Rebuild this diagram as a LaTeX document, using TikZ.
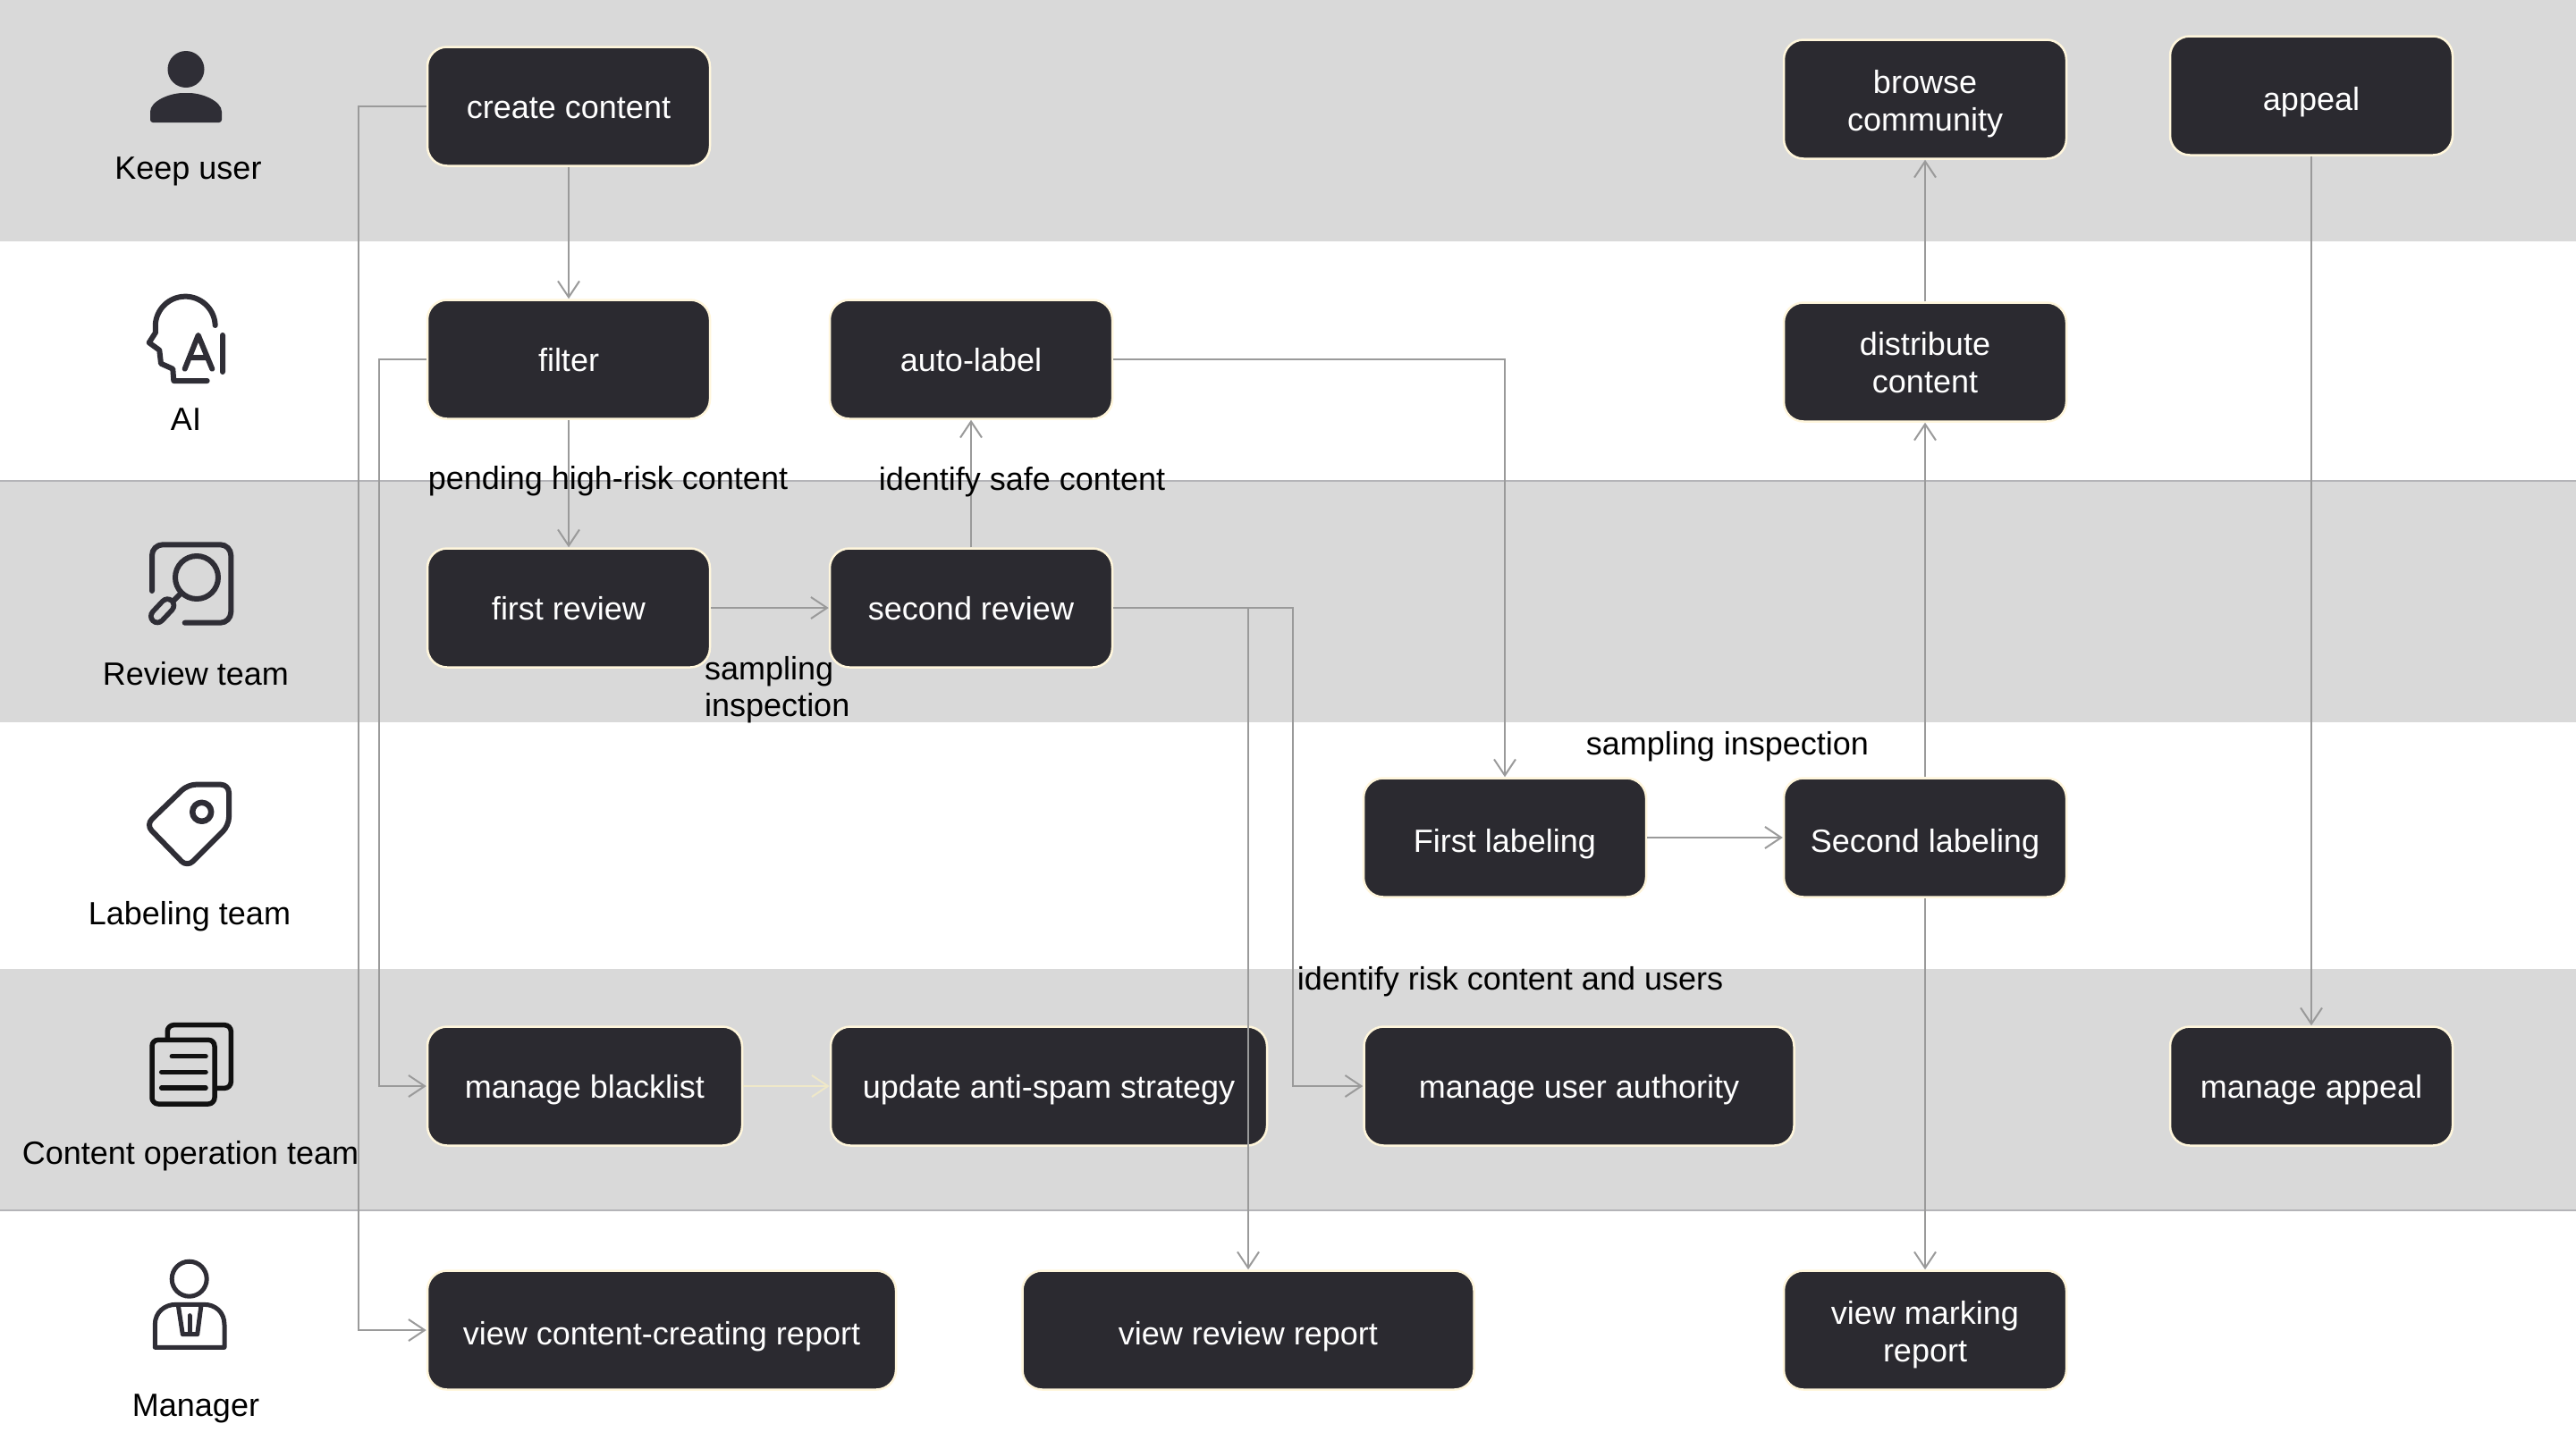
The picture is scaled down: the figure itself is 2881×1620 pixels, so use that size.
\documentclass[tikz,border=0pt]{standalone}
\usepackage{fontspec}
\setmainfont{Liberation Sans}
\usetikzlibrary{arrows.meta}
\definecolor{bandGray}{HTML}{D9D9D9}
\definecolor{bandLine}{HTML}{B4B4B8}
\definecolor{boxFill}{HTML}{2B2A30}
\definecolor{boxEdge}{HTML}{FFF6DC}
\definecolor{flowGray}{HTML}{9A9A9A}
\definecolor{flowCream}{HTML}{EFE8C8}
\definecolor{iconDark}{HTML}{2F2E36}
\definecolor{iconBlack}{HTML}{111111}
\tikzset{
  darkBox/.style={draw=boxEdge, fill=boxFill, line width=2.5pt, rounded corners=22pt, minimum height=133pt,
    minimum width=316pt, text=white, align=center, inner sep=0pt, text height=34pt, text depth=2pt,
    font=\fontsize{36}{42}\selectfont},
  textUp/.style={text height=29pt},
  twoLine/.style={text height=#1, text depth=2pt},
  teamLbl/.style={text=black, font=\fontsize{36}{42}\selectfont, inner sep=0pt},
  edgeLbl/.style={text=black, font=\fontsize{36}{41.5}\selectfont, inner sep=0pt, align=left},
  flowArrow/.style={draw=flowGray, line width=2pt, -{Straight Barb[length=18pt,width=24pt]}},
  iconLine/.style={draw=iconDark, line width=6pt, line cap=round, line join=round},
}
\begin{document}
\begin{tikzpicture}[x=1pt,y=-1pt]
  \useasboundingbox (0,0) rectangle (2881,1620);
  \fill[white] (0,0) rectangle (2881,1620);
  \fill[bandGray] (0,0) rectangle (2881,270);
  \fill[bandGray] (0,538) rectangle (2881,808);
  \fill[bandGray] (0,1084) rectangle (2881,1354);
  \draw[bandLine, line width=2pt] (0,538) -- (2881,538);
  \draw[bandLine, line width=2pt] (0,1354) -- (2881,1354);

  \fill[iconDark] (208,77.5) circle (20.5);
  \fill[iconDark, rounded corners=3pt] (168,137) -- (168,128) .. controls (168,113) and (190,104) .. (208,104)
    .. controls (226,104) and (248,113) .. (248,128) -- (248,137) -- cycle;

  \draw[iconLine] (240.7,364) arc[start angle=-2, end angle=-175, radius=33.5] -- (174,372) -- (166.7,383.3)
    -- (178.3,391.7) -- (180,406.7) -- (193.3,412.7) -- (194.3,426) -- (231.7,426);
  \draw[iconLine] (206.7,412.7) -- (221.7,375) -- (237.3,412.7) (212.7,400) -- (231.7,400) (249,375) -- (249,416);

  \draw[iconLine, rounded corners=12pt] (170,661) -- (170,609.3) -- (258.3,609.3) -- (258.3,696.7) -- (206.7,696.7);
  \draw[iconLine] (220,646) circle (24);
  \draw[iconLine] (202,664) -- (192,674);
  \draw[draw=iconDark, line width=20pt, line cap=round] (176,689.3) -- (187.3,677.3);
  \draw[draw=bandGray, line width=8.5pt, line cap=round] (176,689.3) -- (187.3,677.3);

  \draw[iconLine, rounded corners=9pt] (210,877.7) -- (256,877.7) -- (256,923.3) -- (209.3,970) -- (163.3,922.7) -- cycle;
  \draw[iconLine, line width=6.5pt] (225.7,908.3) circle (10.5);

  \draw[iconLine, draw=iconBlack, line width=5.5pt, rounded corners=7pt] (187.3,1163) -- (187.3,1146.7) -- (258.3,1146.7)
    -- (258.3,1217.3) -- (241.7,1217.3);
  \draw[iconLine, draw=iconBlack, line width=5.5pt, rounded corners=7pt] (170,1163.3) rectangle (240,1235);
  \draw[iconLine, draw=iconBlack, line width=5.5pt] (192.3,1181.7) -- (230,1181.7) (180.7,1199.3) -- (230,1199.3)
    (180.7,1217) -- (230,1217);

  \draw[iconLine, line width=5pt] (211.7,1430.7) circle (19.5);
  \draw[iconLine, line width=5pt] (173.3,1507.3) -- (173.3,1482) .. controls (173.3,1468) and (184,1459.3) .. (197,1459.3)
    -- (228,1459.3) .. controls (241,1459.3) and (251,1468) .. (251,1482) -- (251,1507.3) -- cycle;
  \draw[iconLine, line width=5pt] (199.3,1460) -- (204.3,1492.7) -- (220.7,1492.7) -- (225,1460);
  \draw[iconLine, line width=5pt] (212,1471.7) -- (212,1490);

  \node[teamLbl] (keepLbl) at (210.5,191.5) {Keep user};
  \node[teamLbl] (aiLbl) at (208,469) {AI};
  \node[teamLbl] (reviewLbl) at (219,754) {Review team};
  \node[teamLbl] (labelingLbl) at (212,1025) {Labeling team};
  \node[teamLbl] (contentLbl) at (213,1293) {Content operation team};
  \node[teamLbl] (managerLbl) at (219,1575.5) {Manager};

  \node[darkBox, textUp] (create) at (636,119) {create content};
  \node[darkBox, textUp] (filter) at (636,402) {filter};
  \node[darkBox, textUp] (autoLabel) at (1086,402) {auto-label};
  \node[darkBox, textUp] (firstReview) at (636,680) {first review};
  \node[darkBox, textUp] (secondReview) at (1086,680) {second review};
  \node[darkBox, twoLine=73pt] (browse) at (2153,111) {browse\\community};
  \node[darkBox] (appeal) at (2585,107) {appeal};
  \node[darkBox, twoLine=70pt] (distribute) at (2153,405) {distribute\\content};
  \node[darkBox] (firstLabeling) at (1683,937) {First labeling};
  \node[darkBox] (secondLabeling) at (2153,937) {Second labeling};
  \node[darkBox, textUp, minimum width=352pt] (blacklist) at (654,1215) {manage blacklist};
  \node[darkBox, textUp, minimum width=488pt] (antiSpam) at (1173,1215) {update anti-spam strategy};
  \node[darkBox, textUp, minimum width=481pt] (authority) at (1766,1215) {manage user authority};
  \node[darkBox, textUp] (manageAppeal) at (2585,1215) {manage appeal};
  \node[darkBox, minimum width=524pt] (contentReport) at (740,1488) {view content-creating report};
  \node[darkBox, minimum width=505pt] (reviewReport) at (1396,1488) {view review report};
  \node[darkBox, twoLine=73pt] (markingReport) at (2153,1488) {view marking\\report};

  \coordinate (leftOuter) at (401,119);
  \coordinate (leftInner) at (424,402);
  \coordinate (riskTurn) at (1446,680);

  \draw[flowArrow] (create) -- (filter);
  \draw[flowArrow] (filter) -- (firstReview);
  \draw[flowArrow] (firstReview) -- (secondReview);
  \draw[flowArrow] (secondReview) -- (autoLabel);
  \draw[flowArrow] (create.west) -- (leftOuter) |- (contentReport.west);
  \draw[flowArrow] (filter.west) -- (leftInner) |- (blacklist.west);
  \draw[flowArrow] (autoLabel.east) -| (firstLabeling.north);
  \draw[flowArrow] (secondReview.east) -| (reviewReport.north);
  \draw[flowArrow] (secondReview.east) -- (riskTurn) |- (authority.west);
  \draw[flowArrow] (firstLabeling) -- (secondLabeling);
  \draw[flowArrow] (secondLabeling) -- (distribute);
  \draw[flowArrow] (distribute) -- (browse);
  \draw[flowArrow] (secondLabeling) -- (markingReport);
  \draw[flowArrow] (appeal) -- (manageAppeal);
  \draw[flowArrow, draw=flowCream] (blacklist) -- (antiSpam);

  \node[edgeLbl] (pendingLbl) at (680,538.5) {pending high-risk content};
  \node[edgeLbl] (safeLbl) at (1143,539.5) {identify safe content};
  \node[edgeLbl, anchor=west] (samplingLbl) at (788,771.5) {sampling\\inspection};
  \node[edgeLbl] (labelSampleLbl) at (1932,835.5) {sampling inspection};
  \node[edgeLbl] (riskLbl) at (1689,1098.5) {identify risk content and users};
\end{tikzpicture}
\end{document}
